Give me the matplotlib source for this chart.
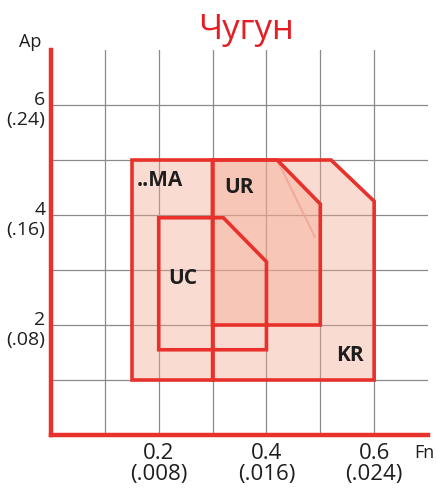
import numpy as np
import matplotlib.pyplot as plt
from matplotlib.patches import Polygon

plt.rcParams['font.family'] = ['Open Sans', 'DejaVu Sans']

# tool ranges: feed Fn (mm/rev) vs depth of cut Ap (mm)
ma_fn = [0.15, 0.30, 0.30, 0.15]
ma_ap = [1.0, 1.0, 5.0, 5.0]
kr_fn = [0.30, 0.60, 0.60, 0.52, 0.30]
kr_ap = [1.0, 1.0, 4.25, 5.0, 5.0]
ur_fn = [0.30, 0.50, 0.50, 0.42, 0.30]
ur_ap = [2.0, 2.0, 4.2, 5.0, 5.0]
uc_fn = [0.20, 0.40, 0.40, 0.32, 0.20]
uc_ap = [1.55, 1.55, 3.15, 3.95, 3.95]

# name, fn, ap, label position, filled, layer
shapes = [("..MA", ma_fn, ma_ap, (0.16, 4.62), True, 1),
          ("KR", kr_fn, kr_ap, (0.53, 1.45), True, 1),
          ("UR", ur_fn, ur_ap, (0.322, 4.5), True, 3),
          ("UC", uc_fn, uc_ap, (0.218, 2.85), False, 3)]

x_ticks = [0.2, 0.4, 0.6]
x_labels = ["0.2\n(.008)", "0.4\n(.016)", "0.6\n(.024)"]
y_ticks = [2, 4, 6]
y_labels = ["2\n(.08)", "4\n(.16)", "6\n(.24)"]

red = '#e8312a'
fill = '#f4a78f'
ink = '#1e1e1e'

fig = plt.figure(figsize=(4.37, 4.96), dpi=100)
ax = fig.add_axes([51/437, 61/496, 377/437, 385/496])
ax.set_xlim(0, 0.7)
ax.set_ylim(0, 7)

for v in np.arange(0.1, 0.65, 0.1):
    ax.axvline(v, color='#8a8a8a', lw=0.9, zorder=0)
for v in range(1, 7):
    ax.axhline(v, color='#8a8a8a', lw=0.9, zorder=0)

for name, fx, fy, (tx, ty), filled, z in shapes:
    pts = np.column_stack([fx, fy])
    if filled:
        ax.add_patch(Polygon(pts, closed=True, facecolor=fill, alpha=0.4,
                             edgecolor='none', zorder=z - 0.5))
    ax.add_patch(Polygon(pts, closed=True, facecolor='none', edgecolor=red,
                         lw=2.6, joinstyle='miter', zorder=z))
    ax.text(tx, ty, name, fontsize=15, fontweight='bold', color=ink,
            va='center', ha='left', zorder=5)
# faint diagonal inside UR
ax.plot([0.42, 0.49], [5.0, 3.6], color='#f0a090', lw=1.5, alpha=0.7, zorder=2.8)

for s in ['top', 'right']:
    ax.spines[s].set_visible(False)
for s in ['left', 'bottom']:
    ax.spines[s].set_color(red)
    ax.spines[s].set_linewidth(3.2)
ax.tick_params(length=0)
ax.set_xticks(x_ticks)
ax.set_xticklabels(x_labels, fontsize=16, linespacing=0.95, color=ink)
ax.tick_params(axis='x', pad=6)
ax.set_yticks([])
for v, lab in zip(y_ticks, y_labels):
    ax.text(-0.01, v + 0.25, lab, fontsize=14, ha='right', va='top',
            multialignment='right', linespacing=1.1, color=ink)

fig.text(30/437, 1 - 42/496, "Ap", fontsize=13, ha='center', va='center', color=ink)
fig.text(424/437, 1 - 453/496, "Fn", fontsize=13, ha='center', va='center', color=ink)
fig.text(246/437, 1 - 30/496, "Чугун", fontsize=25, ha='center', va='center', color='#e31e24')

fig.savefig("out.png", dpi=100)
